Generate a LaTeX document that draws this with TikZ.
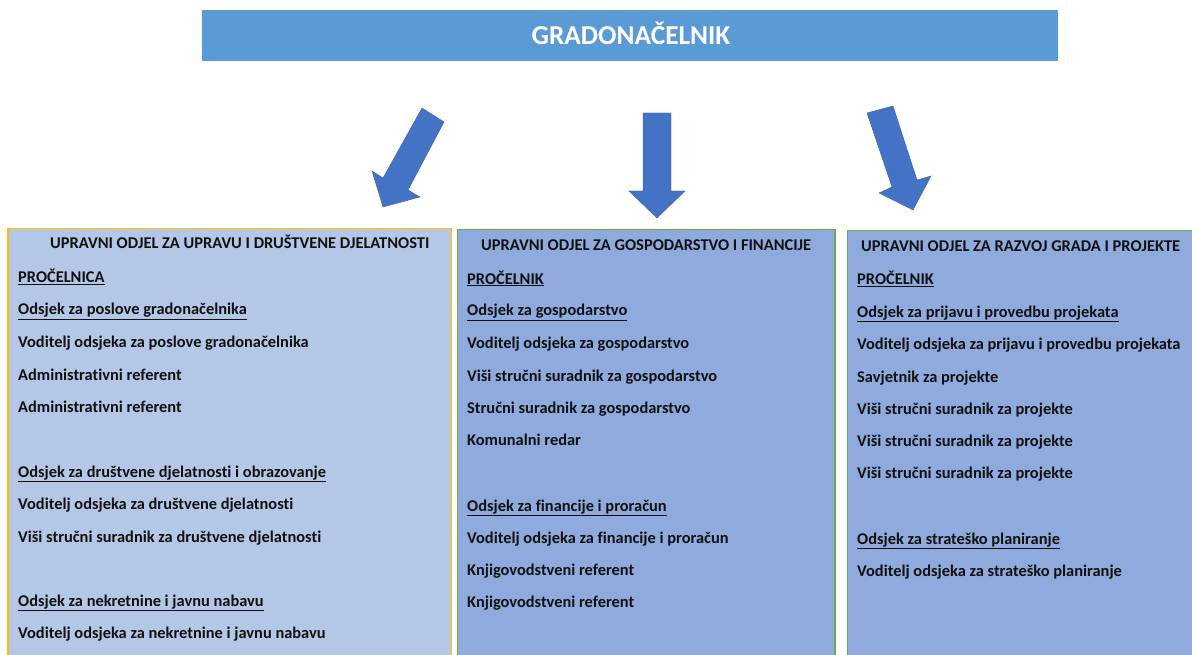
\documentclass[tikz,border=0pt]{standalone}
\usepackage{fontspec}
\setmainfont{Carlito}[Ligatures=NoCommon]
\definecolor{topblue}{HTML}{5B9BD5}
\definecolor{arrowblue}{HTML}{4472C4}
\definecolor{lightbox}{HTML}{B4C7E7}
\definecolor{midbox}{HTML}{8FAADC}
\definecolor{gold}{HTML}{FFC000}
\definecolor{leaf}{HTML}{70AD47}
\definecolor{ink}{HTML}{111111}
\tikzset{
  deptbox/.style={line width=1.2pt},
  txt/.style={anchor=base west, inner sep=0pt, text=ink, font=\bfseries\fontsize{16.4}{18}\selectfont},
  ttl/.style={anchor=base west, inner sep=0pt, text=ink, font=\bfseries\fontsize{16.45}{18}\selectfont},
  blockarrow/.style={fill=arrowblue, draw=arrowblue!85!black, line width=0.4pt},
}
\newcommand{\ul}[1]{\underline{#1}}
\begin{document}
\begin{tikzpicture}[x=1pt,y=-1pt]
\useasboundingbox (0,0) rectangle (1192,655);
\fill[white] (0,0) rectangle (1192,655);
% top box
\fill[topblue] (202,10) rectangle (1058,61);
\node[inner sep=0pt, text=white, font=\bfseries\fontsize{27.3}{30}\selectfont] (mayor) at (631,33) {GRADONAČELNIK};
% department boxes
\draw[deptbox, fill=lightbox, draw=gold] (8,228.5) rectangle (451.5,660);
\draw[deptbox, fill=midbox, draw=leaf] (457.5,229.5) rectangle (835,660);
\draw[deptbox, fill=midbox, draw=leaf] (847.5,230.5) rectangle (1196,660);
% arrows
\filldraw[blockarrow] (422,108) -- (444,122) -- (408,190) -- (420,197) -- (383,207) -- (372,171) -- (383,178) -- cycle;
\filldraw[blockarrow] (643,113) -- (671,113) -- (671,191) -- (685,191) -- (657,218) -- (629,191) -- (643,191) -- cycle;
\filldraw[blockarrow] (867,113) -- (893,106) -- (917,180) -- (931,176) -- (913,210) -- (879,193) -- (892,187) -- cycle;
% left department
\node[ttl] (l0) at (50,249) {UPRAVNI ODJEL ZA UPRAVU I DRUŠTVENE DJELATNOSTI};
\node[txt] (l1) at (18,283) {\ul{PROČELNICA}};
\node[txt] (l2) at (18,315) {\ul{Odsjek za poslove gradonačelnika}};
\node[txt] (l3) at (18,347) {Voditelj odsjeka za poslove gradonačelnika};
\node[txt] (l4) at (18,380) {Administrativni referent};
\node[txt] (l5) at (18,412) {Administrativni referent};
\node[txt] (l6) at (18,477) {\ul{Odsjek za društvene djelatnosti i obrazovanje}};
\node[txt] (l7) at (18,509) {Voditelj odsjeka za društvene djelatnosti};
\node[txt] (l8) at (18,542) {Viši stručni suradnik za društvene djelatnosti};
\node[txt] (l9) at (18,606) {\ul{Odsjek za nekretnine i javnu nabavu}};
\node[txt] (l10) at (18,638) {Voditelj odsjeka za nekretnine i javnu nabavu};
% middle department
\node[ttl] (m0) at (481,251) {UPRAVNI ODJEL ZA GOSPODARSTVO I FINANCIJE};
\node[txt] (m1) at (467,284) {\ul{PROČELNIK}};
\node[txt] (m2) at (467,316) {\ul{Odsjek za gospodarstvo}};
\node[txt] (m3) at (467,348) {Voditelj odsjeka za gospodarstvo};
\node[txt] (m4) at (467,381) {Viši stručni suradnik za gospodarstvo};
\node[txt] (m5) at (467,413) {Stručni suradnik za gospodarstvo};
\node[txt] (m6) at (467,445) {Komunalni redar};
\node[txt] (m7) at (467,511) {\ul{Odsjek za financije i proračun}};
\node[txt] (m8) at (467,543) {Voditelj odsjeka za financije i proračun};
\node[txt] (m9) at (467,575) {Knjigovodstveni referent};
\node[txt] (m10) at (467,607) {Knjigovodstveni referent};
% right department
\node[ttl] (r0) at (861,252) {UPRAVNI ODJEL ZA RAZVOJ GRADA I PROJEKTE};
\node[txt] (r1) at (857,285) {\ul{PROČELNIK}};
\node[txt] (r2) at (857,317) {\ul{Odsjek za prijavu i provedbu projekata}};
\node[txt] (r3) at (857,349) {Voditelj odsjeka za prijavu i provedbu projekata};
\node[txt] (r4) at (857,382) {Savjetnik za projekte};
\node[txt] (r5) at (857,414) {Viši stručni suradnik za projekte};
\node[txt] (r6) at (857,446) {Viši stručni suradnik za projekte};
\node[txt] (r7) at (857,478) {Viši stručni suradnik za projekte};
\node[txt] (r8) at (857,544) {\ul{Odsjek za strateško planiranje}};
\node[txt] (r9) at (857,576) {Voditelj odsjeka za strateško planiranje};
\end{tikzpicture}
\end{document}
